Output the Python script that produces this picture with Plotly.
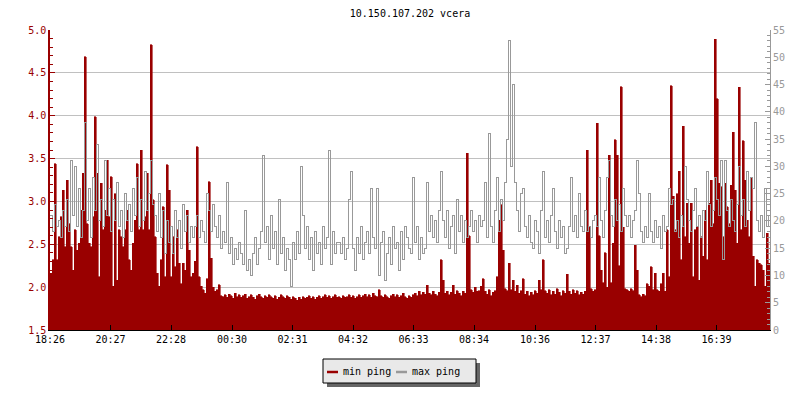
import plotly.graph_objects as go

# ---- data (one sample every 4 minutes, starting 18:26) ----
start_label = "18:26"
step_min = 4
tick_labels = ["18:26", "20:27", "22:28", "00:30", "02:31", "04:32",
               "06:33", "08:34", "10:36", "12:37", "14:38", "16:39"]

min_ping = [
    # 18:26 - 23:14
    2.16, 2.32, 3.44, 2.32, 2.59, 2.82, 3.13, 2.47, 3.25, 2.74,
    2.47, 2.20, 2.67, 2.43, 2.51, 2.90, 3.33, 4.69, 2.74, 2.51,
    2.47, 2.82, 3.99, 3.33, 2.12, 3.21, 2.67, 2.90, 3.48, 2.82,
    3.29, 2.01, 3.09, 2.08, 2.67, 2.59, 2.47, 2.67, 2.90, 2.32,
    2.20, 2.51, 2.78, 3.44, 2.67, 3.60, 2.67, 2.82, 3.33, 2.67,
    4.83, 3.02, 2.59, 2.16, 2.01, 2.32, 2.94, 2.12, 3.43, 3.13,
    2.12, 2.59, 2.24, 2.67, 2.28, 2.04, 2.28, 2.20, 2.90, 2.43,
    2.12, 2.16,
    # 23:14 - 04:02
    2.30, 3.64, 2.12, 2.01, 1.97, 1.93, 2.10, 3.23, 2.34, 2.00,
    1.95, 1.97, 2.03, 1.90,
    1.89, 1.91, 1.88, 1.92, 1.90, 1.87, 1.93, 1.89, 1.91, 1.88,
    1.90, 1.92, 1.87, 1.89, 1.91, 1.88, 1.86, 1.90, 1.92, 1.89,
    1.87, 1.90, 1.88, 1.91, 1.89, 1.87, 1.90, 1.86, 1.88, 1.91,
    1.89, 1.87, 1.90, 1.88, 1.86, 1.89, 1.87, 1.85, 1.88, 1.86,
    1.89, 1.87, 1.88, 1.90, 1.87, 1.89, 1.86, 1.88, 1.90, 1.87,
    1.89, 1.91, 1.88, 1.90, 1.87, 1.89, 1.91, 1.88,
    # 04:02 - 08:50
    1.89, 1.87, 1.90, 1.88, 1.89, 1.91, 1.88, 1.90, 1.87, 1.89,
    1.91, 1.88, 1.90, 1.92, 1.89, 1.91, 1.88, 1.93, 1.90, 1.89,
    1.97, 1.90, 1.88, 1.91, 1.89, 1.87, 1.90, 1.92, 1.89, 1.91,
    1.88, 1.90, 1.93, 1.89, 1.87, 1.90, 1.88, 1.91, 1.93, 1.90,
    1.95, 1.91, 1.94, 1.92, 2.02, 1.93, 1.91, 1.95, 1.92, 1.90,
    1.94, 2.32, 2.08, 1.93, 1.95, 1.91, 1.94, 2.02, 1.92, 1.96,
    1.93, 1.90, 1.95, 1.93, 3.56, 2.60, 1.97, 1.94, 2.00, 1.95,
    1.96, 2.01,
    # 08:50 - 13:38
    2.10, 1.95, 1.92, 1.97, 1.90, 1.94, 1.96, 2.12, 2.78, 2.96,
    2.43, 1.98, 1.96, 2.28, 1.97, 2.08, 1.95, 2.02, 1.93, 1.96,
    2.10, 1.92, 1.95, 1.90, 1.94, 1.91, 1.96, 1.93, 2.08, 1.97,
    2.32, 1.96, 1.93, 1.97, 1.91, 1.95, 1.92, 1.98, 1.94, 1.90,
    1.96, 1.93, 2.15, 1.95, 1.92, 1.97, 1.93, 1.96, 1.91, 1.94,
    1.92, 1.95, 3.60, 2.70, 1.98, 1.95, 1.97, 3.91, 2.60, 2.20,
    2.05, 2.40, 2.00, 3.54, 2.05, 2.51, 3.72, 3.54, 2.25, 4.34,
    2.70, 1.98,
    # 13:38 - 18:26
    1.97, 1.95, 1.98, 1.96, 2.49, 2.20, 1.91, 1.89, 1.92, 1.90,
    2.04, 2.01, 2.24, 1.97, 2.16, 1.97, 1.95, 2.04, 2.16, 1.95,
    2.67, 2.12, 4.35, 3.06, 2.67, 3.09, 3.35, 2.32, 3.88, 2.59,
    2.98, 2.51, 2.98, 2.12, 2.67, 2.71, 2.08, 2.59, 2.36, 2.90,
    2.32, 2.98, 3.25, 2.74, 4.89, 4.20, 3.21, 3.17, 2.59, 3.21,
    2.94, 2.74, 3.19, 3.81, 3.13, 2.51, 4.33, 2.67, 3.71, 3.25,
    2.78, 2.59, 3.27, 2.36, 2.01, 2.32, 2.28, 2.26, 2.20, 2.01,
    2.63, 2.28,
]

max_ping = [
    # 18:26 - 23:14
    21, 18, 23, 19, 20, 17, 22, 19, 24, 18,
    31, 21, 30, 19, 26, 17, 22, 38, 20, 26,
    17, 28, 22, 34, 20, 24, 19, 31, 21, 26,
    18, 24, 20, 27, 19, 22, 17, 25, 20, 23,
    18, 26, 21, 28, 19, 24, 20, 29, 22, 25,
    31, 23, 21, 18, 25, 17, 22, 14, 20, 16,
    19, 14, 22, 17, 20, 15, 23, 18, 21, 16,
    19, 17,
    # 23:14 - 04:02
    19, 21, 17, 20, 18, 16, 25, 22, 18, 23,
    19, 17, 21, 15, 18, 16, 27, 14, 17, 12,
    15, 13, 16, 14, 12, 22, 11, 13, 10, 14,
    17, 12, 15, 18, 32, 16, 19, 13, 21, 15,
    18, 12, 24, 14, 17, 11, 15, 13, 8, 16,
    13, 18, 14, 30, 21, 15, 19, 13, 17, 11,
    18, 14, 16, 12, 19, 15, 17, 33, 12, 18,
    14, 16,
    # 04:02 - 08:50
    16, 14, 17, 13, 15, 24, 29, 15, 11, 17,
    14, 19, 13, 16, 18, 14, 26, 17, 15, 26,
    10, 16, 18, 9, 14, 17, 12, 19, 15, 16,
    11, 18, 13, 19, 17, 15, 14, 28, 16, 19,
    13, 17, 14, 15, 27, 18, 21, 17, 20, 16,
    22, 29, 20, 17, 22, 15, 19, 21, 14, 24,
    18, 21, 16, 20, 17, 19, 22, 18, 20, 16,
    21, 19,
    # 08:50 - 13:38
    20, 27, 17, 36, 19, 16, 22, 28, 18, 24,
    20, 27, 35, 53, 30, 45, 27, 22, 18, 25,
    26, 19, 17, 21, 16, 15, 20, 18, 14, 22,
    29, 17, 20, 16, 21, 26, 18, 15, 20, 17,
    19, 14, 15, 19, 28, 18, 21, 17, 25, 19,
    18, 22, 18, 19, 17, 20, 21, 19, 28, 20,
    17, 22, 28, 31, 21, 19, 24, 20, 23, 18,
    26, 21,
    # 13:38 - 18:26
    19, 21, 17, 20, 22, 31, 25, 18, 16, 19,
    17, 25, 18, 16, 20, 17, 19, 15, 21, 18,
    19, 26, 23, 24, 18, 20, 17, 21, 19, 30,
    24, 20, 18, 22, 26, 19, 21, 17, 22, 20,
    29, 23, 19, 22, 28, 24, 21, 31, 13, 31,
    22, 19, 24, 20, 18, 23, 30, 21, 24, 19,
    29, 22, 28, 26, 38, 20, 18, 21, 17, 26,
    19, 21,
]

# ---- derived positions ----
def to_min(label):
    h, m = map(int, label.split(":"))
    s_h, s_m = map(int, start_label.split(":"))
    d = (h * 60 + m) - (s_h * 60 + s_m)
    return d if d >= 0 else d + 1440

n = len(min_ping)
x = [i * step_min for i in range(n)]
x_step = x + [n * step_min]
min_step = min_ping + [min_ping[-1]]
max_step = max_ping + [max_ping[-1]]
tickvals = [to_min(t) for t in tick_labels]

RED = "#990000"
GRAY = "#999999"
FONT = "DejaVu Sans Mono"

fig = go.Figure()
fig.add_trace(go.Scatter(
    x=x_step, y=min_step, name="min ping", mode="lines",
    line=dict(shape="hv", color=RED, width=0.6),
    fill="tozeroy", fillcolor=RED, yaxis="y", hoverinfo="skip",
))
fig.add_trace(go.Scatter(
    x=x_step, y=max_step, name="max ping", mode="lines",
    line=dict(shape="hv", color=GRAY, width=1),
    yaxis="y2", hoverinfo="skip",
))

# ---- legend drawn as a small boxed key below the plot ----
L, T, W, H = 50, 30, 720, 300
def px(xp):
    return (xp - L) / W
def py(yp):
    return (T + H - yp) / H

shapes = [
    dict(type="rect", xref="paper", yref="paper", x0=px(327), x1=px(480),
         y0=py(387), y1=py(363), fillcolor="#666666", line=dict(width=0)),
    dict(type="rect", xref="paper", yref="paper", x0=px(323), x1=px(476),
         y0=py(383), y1=py(359), fillcolor="#e9e9e9",
         line=dict(color="black", width=1)),
    dict(type="line", xref="paper", yref="paper", x0=px(327), x1=px(338),
         y0=py(372), y1=py(372), line=dict(color=RED, width=2.5)),
    dict(type="line", xref="paper", yref="paper", x0=px(396), x1=px(407),
         y0=py(372), y1=py(372), line=dict(color=GRAY, width=2.5)),
]
annotations = [
    dict(text="min ping", xref="paper", yref="paper", x=px(341), y=py(371),
         xanchor="left", yanchor="middle", showarrow=False,
         font=dict(family=FONT, size=10, color="black")),
    dict(text="max ping", xref="paper", yref="paper", x=px(410), y=py(371),
         xanchor="left", yanchor="middle", showarrow=False,
         font=dict(family=FONT, size=10, color="black")),
]

fig.update_layout(
    width=800, height=400,
    margin=dict(l=L, r=800 - L - W, t=T, b=400 - T - H, autoexpand=False),
    paper_bgcolor="white", plot_bgcolor="white",
    showlegend=False,
    title=dict(text="10.150.107.202 vcera", x=0.5, xref="paper", xanchor="center",
               y=1 - 13 / 400, yanchor="middle",
               font=dict(family=FONT, size=10, color="black")),
    font=dict(family=FONT, size=10),
    xaxis=dict(range=[0, 1440], tickvals=tickvals, ticktext=tick_labels,
               ticks="inside", ticklen=5, tickcolor="black", tickwidth=1,
               showline=True, linecolor="black", linewidth=1,
               showgrid=False, zeroline=False, automargin=False,
               tickfont=dict(family=FONT, size=10, color="black")),
    yaxis=dict(range=[1.5, 5.0], tickvals=[1.5, 2.0, 2.5, 3.0, 3.5, 4.0, 4.5, 5.0],
               tickformat=".1f", ticks="inside", ticklen=5, tickcolor=RED,
               showline=True, linecolor=RED, linewidth=1.5, automargin=False,
               showgrid=True, gridcolor="#c0c0c0", gridwidth=1, zeroline=False,
               minor=dict(dtick=0.1, tick0=1.5, ticks="inside", ticklen=3,
                          tickcolor=RED, showgrid=False),
               tickfont=dict(family=FONT, size=10, color=RED)),
    yaxis2=dict(range=[0, 55], tickvals=list(range(0, 56, 5)), overlaying="y",
                side="right", ticks="inside", ticklen=5, tickcolor=GRAY,
                showline=True, linecolor=GRAY, linewidth=1, automargin=False,
                showgrid=False, zeroline=False,
                minor=dict(dtick=1, tick0=0, ticks="inside", ticklen=3,
                           tickcolor=GRAY, showgrid=False),
                tickfont=dict(family=FONT, size=10, color=GRAY)),
    shapes=shapes, annotations=annotations,
)

fig.write_html(
    "out.html",
    config={"displayModeBar": False},
    post_script=(
        "document.body.style.margin='0';"
        "document.querySelectorAll('.scatterlayer path').forEach(function(p){"
        "p.style.shapeRendering='crispEdges';});"
    ),
)
